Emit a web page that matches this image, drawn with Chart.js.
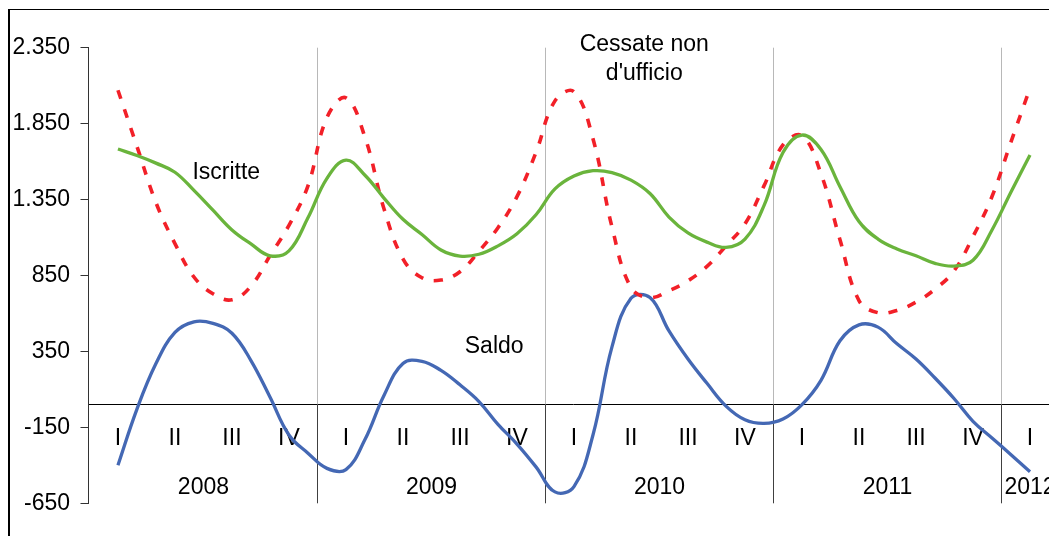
<!DOCTYPE html>
<html>
<head>
<meta charset="utf-8">
<script src="https://cdn.jsdelivr.net/npm/chart.js@4/dist/chart.umd.min.js"></script>
<style>
  html, body { margin: 0; padding: 0; background: #fff; overflow: hidden; }
  body { width: 1049px; height: 536px; position: relative; }
  #frame { position: absolute; left: 8px; top: 9px; width: 1100px; height: 600px;
           border-left: 2px solid #000; border-top: 1px solid #000; }
  #chart { position: absolute; left: 0; top: 0; }
</style>
</head>
<body>
<div id="frame"></div>
<canvas id="chart" width="1060" height="536"></canvas>
<script>
// quarters and years shown under the zero line
const quarters = ['I', 'II', 'III', 'IV'];
const years = ['2008', '2009', '2010', '2011', '2012'];

// monthly values, Jan 2008 -> Jan 2012
const iscritte = [1683, 1640, 1590, 1530, 1410, 1280, 1150, 1058, 980, 1012, 1230, 1490,
    1610, 1510, 1360, 1220, 1120, 1018, 978, 990, 1045, 1125, 1250, 1420,
    1505, 1540, 1528, 1478, 1390, 1235, 1130, 1070, 1035, 1090, 1310, 1660,
    1775, 1680, 1435, 1205, 1090, 1025, 980, 930, 912, 950, 1150, 1400,
    1643];
const cessate = [2070, 1700, 1330, 1060, 840, 730, 690, 780, 980, 1180, 1440, 1890,
    2020, 1760, 1290, 960, 835, 820, 875, 1010, 1165, 1369, 1660, 2000,
    2060, 1750, 1170, 770, 705, 750, 815, 910, 1045, 1190, 1440, 1710,
    1770, 1520, 1085, 685, 605, 620, 675, 760, 880, 1106, 1370, 1730,
    2083];
const saldo = [-400, -30, 270, 475, 545, 535, 470, 290, 50, -200, -320, -420,
    -428, -230, 60, 270, 285, 225, 130, 20, -130, -260, -410, -575,
    -540, -200, 380, 700, 705, 485, 300, 140, -10, -100, -124, -95,
    0, 160, 420, 525, 510, 400, 300, 175, 40, -110, -220, -330,
    -442];

// text labels placed in data units (month, value)
const notes = [
    { text: 'Iscritte', x: 5.7, y: 1530 },
    { text: 'Cessate non', x: 27.7, y: 2368 },
    { text: "d'ufficio", x: 27.7, y: 2177 },
    { text: 'Saldo', x: 19.8, y: 379 }
];

Chart.defaults.font.family = '"Liberation Sans", Arial, sans-serif';
Chart.defaults.font.size = 23;
Chart.defaults.color = '#000';

const toPoints = arr => arr.map((v, i) => ({ x: i, y: v }));
const fmt = v => String(v).replace(/\B(?=(\d{3})+(?!\d))/g, '.');
const noPad = axis => { axis.paddingLeft = 0; axis.paddingRight = 0; };

// year separators + free text
const extras = {
    id: 'extras',
    beforeDatasetsDraw(chart) {
        const { ctx, chartArea } = chart;
        const xs = chart.scales.x;
        const zero = chart.scales.y.getPixelForValue(0);
        ctx.save();
        for (let k = 1; k < years.length; k++) {
            const px = Math.round(xs.getPixelForValue(k * 12 - 1.5)) + 0.5;
            ctx.lineWidth = 1;
            ctx.strokeStyle = '#b8b8b8';
            ctx.beginPath();
            ctx.moveTo(px, chartArea.top);
            ctx.lineTo(px, zero);
            ctx.stroke();
            ctx.strokeStyle = '#404040';
            ctx.beginPath();
            ctx.moveTo(px, zero);
            ctx.lineTo(px, chartArea.bottom);
            ctx.stroke();
        }
        ctx.restore();
    },
    afterDatasetsDraw(chart) {
        const { ctx } = chart;
        const xs = chart.scales.x, ys = chart.scales.y;
        ctx.save();
        ctx.font = '23px "Liberation Sans", Arial, sans-serif';
        ctx.fillStyle = '#000';
        ctx.textAlign = 'center';
        ctx.textBaseline = 'middle';
        notes.forEach(n => ctx.fillText(n.text, xs.getPixelForValue(n.x), ys.getPixelForValue(n.y)));
        ctx.restore();
    }
};

new Chart(document.querySelector('#chart').getContext('2d'), {
    type: 'line',
    data: {
        datasets: [
            {
                label: 'Iscritte',
                data: toPoints(iscritte),
                borderColor: '#6ab43c',
                borderWidth: 3.3,
                tension: 0.4
            },
            {
                label: "Cessate non d'ufficio",
                data: toPoints(cessate),
                borderColor: '#f22028',
                borderWidth: 3.6,
                borderDash: [9, 11],
                tension: 0.4
            },
            {
                label: 'Saldo',
                data: toPoints(saldo),
                borderColor: '#4468b4',
                borderWidth: 3.3,
                tension: 0.4
            }
        ]
    },
    options: {
        responsive: false,
        animation: false,
        layout: { padding: { top: 47.7, bottom: 32.7, left: 0, right: 1.5 } },
        elements: { point: { radius: 0 } },
        plugins: { legend: { display: false }, tooltip: { enabled: false } },
        scales: {
            x: {
                type: 'linear',
                position: { y: 0 },
                min: -1.55,
                max: 49.5,
                afterFit: noPad,
                afterBuildTicks: axis => {
                    axis.ticks = iscritte.map((v, i) => i).filter(i => i % 3 === 0).map(i => ({ value: i }));
                },
                ticks: {
                    autoSkip: false,
                    maxRotation: 0,
                    padding: 20.6,
                    callback: v => quarters[(v / 3) % 4]
                },
                grid: { display: false, drawTicks: false },
                border: { display: true, color: '#000', width: 1 }
            },
            x2: {
                type: 'linear',
                position: { y: 0 },
                min: -1.55,
                max: 49.5,
                afterFit: noPad,
                afterBuildTicks: axis => {
                    axis.ticks = years.map((y, k) => ({ value: k < years.length - 1 ? k * 12 + 4.5 : k * 12 }));
                },
                ticks: {
                    autoSkip: false,
                    maxRotation: 0,
                    padding: 69.6,
                    callback: (v, i) => years[i]
                },
                grid: { display: false, drawTicks: false },
                border: { display: false }
            },
            y: {
                min: -650,
                max: 2350,
                afterFit: axis => { axis.width = 88.5; },
                ticks: {
                    stepSize: 500,
                    padding: 10.5,
                    callback: v => fmt(v)
                },
                grid: { drawOnChartArea: false, tickLength: 8, color: '#333' },
                border: { color: '#333', width: 1 }
            }
        }
    },
    plugins: [extras]
});
</script>
</body>
</html>
